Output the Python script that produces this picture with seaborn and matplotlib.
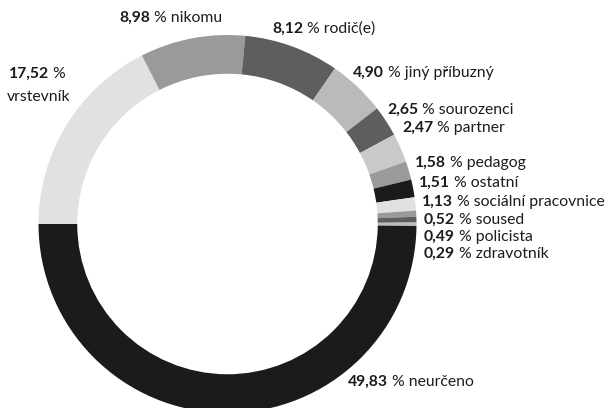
import matplotlib
matplotlib.use("Agg")
import matplotlib.pyplot as plt
import seaborn as sns

sns.set_style("white")
plt.rcParams['font.family'] = ['Lato', 'DejaVu Sans']

# ---- data (clockwise from 9 o'clock) ----
categories = ["vrstevník", "nikomu", "rodič(e)", "jiný příbuzný", "sourozenci",
              "partner", "pedagog", "ostatní", "sociální pracovnice", "soused",
              "policista", "zdravotník", "neurčeno"]
values = [17.52, 8.98, 8.12, 4.90, 2.65, 2.47, 1.58, 1.51, 1.13, 0.52, 0.49, 0.29, 49.83]
value_labels = ["17,52", "8,98", "8,12", "4,90", "2,65", "2,47", "1,58", "1,51",
                "1,13", "0,52", "0,49", "0,29", "49,83"]

colors = ["#e1e1e1", "#9a9a9a", "#5e5e5e", "#bababa", "#5e5e5e", "#c9c9c9",
          "#9a9a9a", "#1a1a1a", "#e1e1e1", "#9a9a9a", "#5e5e5e", "#bdbdbd", "#1a1c1b"]

# label anchor positions in pixels (left x, centre y from top)
label_pos = [(9, 74), (119, 18), (272, 29), (353, 73), (387, 110), (402, 128),
             (415, 163), (419, 183), (422, 202), (424, 220), (424, 237), (424, 254),
             (348, 382)]

W, H = 616, 408
fig = plt.figure(figsize=(W / 100, H / 100), dpi=100)
ax = fig.add_axes([0, 0, 1, 1])

cx, cy, R = 227.5, H - 224, 189
ax.pie(values, colors=colors, startangle=180, counterclock=False,
       radius=R, center=(cx, cy),
       wedgeprops=dict(width=R * 0.205, linewidth=0, antialiased=True))
ax.set_xlim(0, W)
ax.set_ylim(0, H)
ax.set_aspect('equal')
ax.axis('off')

txt_color = "#1c1c1c"
fs = 11.3
for cat, vl, (px, py) in zip(categories, value_labels, label_pos):
    t = ax.text(px, H - py, vl, fontsize=fs, fontweight='bold', color=txt_color,
                ha='left', va='center')
    if cat == "vrstevník":
        ax.annotate(" %", xy=(1, 0), xycoords=t, fontsize=fs, color=txt_color,
                    ha='left', va='bottom')
        ax.text(39, H - 97, cat, fontsize=fs, color=txt_color, ha='center', va='center')
    else:
        ax.annotate(" % " + cat, xy=(1, 0), xycoords=t, fontsize=fs, color=txt_color,
                    ha='left', va='bottom')

fig.savefig("out.png", dpi=100)
